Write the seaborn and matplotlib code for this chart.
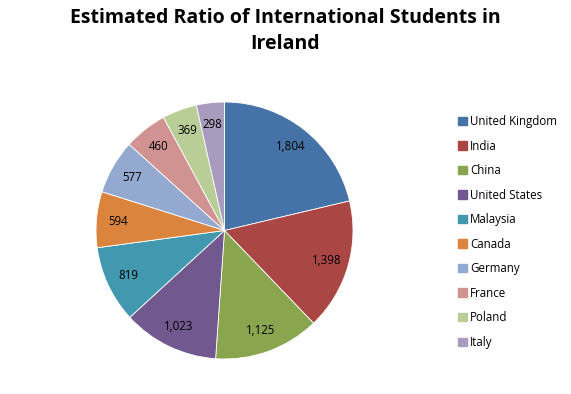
import matplotlib
matplotlib.use("Agg")
import matplotlib.pyplot as plt
import matplotlib.patches as mpatches
import seaborn as sns

# Data
countries = ["United Kingdom", "India", "China", "United States", "Malaysia",
             "Canada", "Germany", "France", "Poland", "Italy"]
students = [1804, 1398, 1125, 1023, 819, 594, 577, 460, 369, 298]
slice_colors = ["#4572A7", "#AA4643", "#89A54E", "#71588F", "#4198AF",
                "#DB843D", "#93A9CF", "#D19392", "#B9CD96", "#A99BBD"]

sns.set_theme(style="white")
plt.rcParams["font.family"] = ["Open Sans", "DejaVu Sans"]
plt.rcParams["text.color"] = "black"

palette = sns.color_palette(slice_colors)
total = sum(students)

fig = plt.figure(figsize=(5.71, 3.94), dpi=100)
ax = fig.add_axes([95 / 571, 35 / 394, 259 / 571, 257 / 394])

wedges, texts, autotexts = ax.pie(
    students,
    colors=palette,
    startangle=90,
    counterclock=False,
    radius=1.0,
    autopct=lambda p: f"{round(p * total / 100):,}",
    pctdistance=0.83,
    wedgeprops=dict(edgecolor="white", linewidth=0.6),
    textprops=dict(fontsize=8.3, color="black"),
)
ax.set_xlim(-1.0, 1.0)
ax.set_ylim(-1.0, 1.0)
ax.set_aspect("equal")
ax.axis("off")

fig.text(0.5, 0.98, "Estimated Ratio of International Students in\nIreland",
         ha="center", va="top", fontsize=14, fontweight="bold",
         color="black", linespacing=1.4)

handles = [mpatches.Patch(color=c, label=n) for c, n in zip(palette, countries)]
fig.legend(handles=handles, loc="upper left", bbox_to_anchor=(458 / 571, 1 - 115 / 394),
           frameon=False, fontsize=8.3, handlelength=0.75, handleheight=0.75,
           handletextpad=0.3, labelspacing=1.0, borderaxespad=0, borderpad=0)

fig.savefig("out.png", dpi=100, facecolor="white")
